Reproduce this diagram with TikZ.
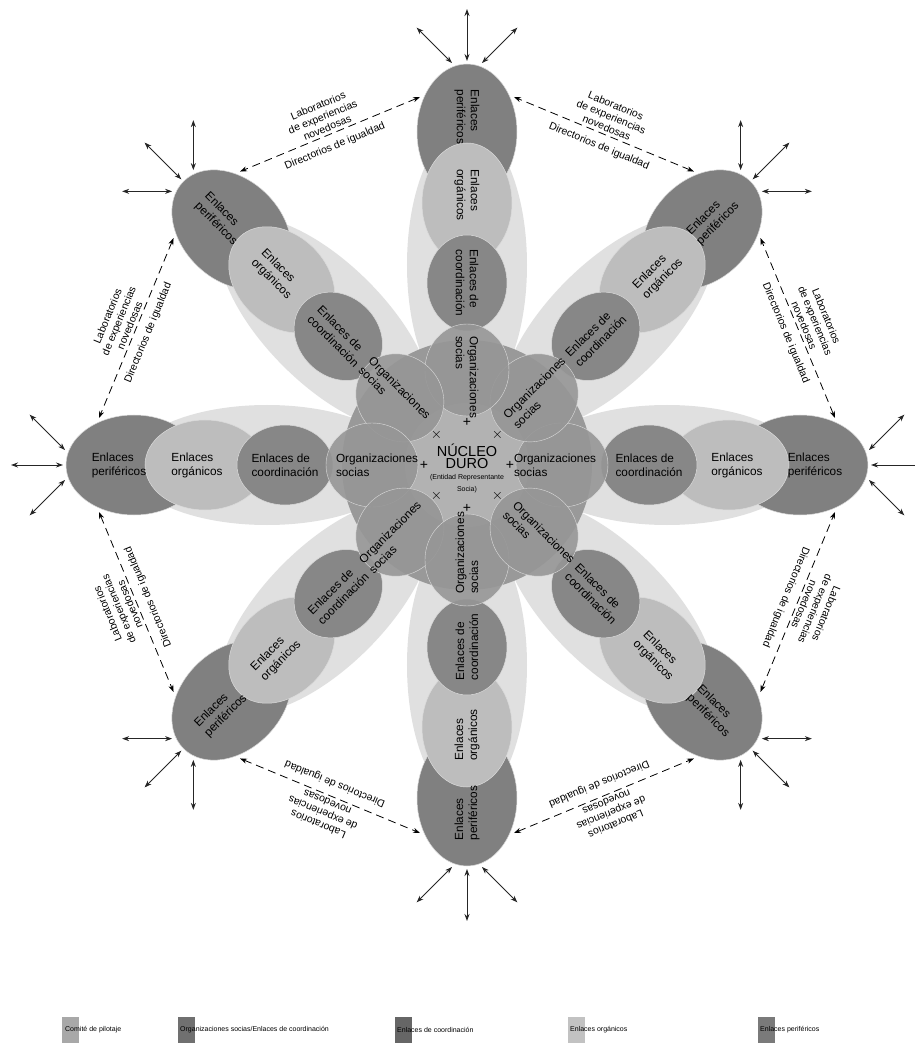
\documentclass[tikz,border=0pt]{standalone}
\usepackage{fontspec}
\setmainfont{Liberation Sans}
\usetikzlibrary{arrows.meta,calc}
\definecolor{perif}{gray}{0.50}
\definecolor{organ}{gray}{0.74}
\definecolor{coord}{gray}{0.53}
\definecolor{socia}{gray}{0.59}
\definecolor{disk}{gray}{0.60}
\definecolor{core}{gray}{0.70}
\definecolor{pale}{gray}{0.80}
\definecolor{edge}{gray}{0.86}
\definecolor{legA}{gray}{0.66}
\definecolor{legB}{gray}{0.44}
\definecolor{legC}{gray}{0.40}
\definecolor{legD}{gray}{0.76}
\definecolor{legE}{gray}{0.48}
\begin{document}
\begin{tikzpicture}[x=1pt,y=1pt,
  ptext/.style={font=\fontsize{11.8}{14}\selectfont, align=left, inner sep=0pt},
  lab/.style={font=\fontsize{10.5}{12}\selectfont, align=center, inner sep=0pt},
  markstyle/.style={font=\fontsize{14}{14}\selectfont, inner sep=0pt},
  dasharrow/.style={line width=0.8pt, dash pattern=on 8pt off 5pt, {Stealth[length=7pt,width=5pt]}-{Stealth[length=7pt,width=5pt]}},
  outarrow/.style={line width=0.9pt, black!85, {Stealth[length=7pt,width=5pt]}-{Stealth[length=7pt,width=5pt]}},
  legtext/.style={font=\fontsize{7}{7}\selectfont, anchor=west, inner sep=0pt},
  legbox/.style={minimum width=17pt, minimum height=26pt, inner sep=0pt, anchor=west}
]
\useasboundingbox (-467,-579) rectangle (448,465);
\fill[white] (-467,-579) rectangle (448,465);

% pale halos
\foreach \t in {0,45,...,315}{
  \fill[pale, opacity=0.6, rotate=\t] (200,0) ellipse [x radius=138, y radius=60];
}
% big disk
\fill[disk] (0,0) circle (125);
% petals
\foreach \t in {0,45,...,315}{
  \filldraw[fill=perif, draw=edge, line width=0.5pt, rotate=\t] (333,0) ellipse [x radius=68, y radius=50];
}
\foreach \t in {0,45,...,315}{
  \filldraw[fill=organ, draw=edge, line width=0.5pt, rotate=\t] (262,0) ellipse [x radius=60, y radius=45];
}
\foreach \t in {0,45,...,315}{
  \filldraw[fill=coord, draw=edge, line width=0.5pt, rotate=\t] (182,0) ellipse [x radius=48, y radius=40];
}
% core
\fill[core] (0,0) circle (62);
\foreach \t in {0,45,...,315}{
  \filldraw[fill=socia, fill opacity=0.9, draw=edge, line width=0.4pt, rotate=\t] (95,0) ellipse [x radius=46, y radius=42];
}

% petal texts
\foreach \t/\r/\s in {0/0/88,45/45/102,90/-90/88,135/-45/102,180/0/90,225/45/102,270/90/88,315/-45/102}{
  \node[ptext, rotate=\r] (perif\t) at (\t:348) {Enlaces\\periféricos};
  \node[ptext, rotate=\r] (organ\t) at (\t:270) {Enlaces\\orgánicos};
  \node[ptext, rotate=\r] (coord\t) at (\t:182) {Enlaces de\\coordinación};
  \node[ptext, rotate=\r] (socia\t) at (\t:\s) {Organizaciones\\socias};
}

% centre
\node[align=center, inner sep=0pt] (nucleo) at (0,-3)
  {\fontsize{14.5}{14}\selectfont NÚCLEO\\\fontsize{14.5}{14}\selectfont DURO\\[-1pt]\fontsize{7}{8}\selectfont (Entidad Representante\\\fontsize{7}{8}\selectfont Socia)};
\foreach \a in {0,90,180,270}{
  \node[markstyle] (plus\a) at (\a:43) {+};
}
\foreach \a in {45,135,225,315}{
  \node[markstyle] (times\a) at (\a:43) {$\times$};
}

% outer solid arrows
\foreach \t in {0,45,...,315}{
  \pgfmathsetmacro\tl{\t-90}
  \pgfmathsetmacro\tr{\t+90}
  \pgfmathsetmacro\dl{\t-45}
  \pgfmathsetmacro\dr{\t+45}
  \coordinate (sm\t) at (\t:404);
  \coordinate (em\t) at (\t:456);
  \coordinate (sl\t) at ($(\t:402)+(\tl:15)$);
  \coordinate (el\t) at ($(sl\t)+(\dl:50)$);
  \coordinate (sr\t) at ($(\t:402)+(\tr:15)$);
  \coordinate (er\t) at ($(sr\t)+(\dr:50)$);
  \draw[outarrow] (sm\t) -- (em\t);
  \draw[outarrow] (sl\t) -- (el\t);
  \draw[outarrow] (sr\t) -- (er\t);
}

% dashed arrows and labels between petals
\foreach \t in {0,45,...,315}{
  \pgfmathsetmacro\tn{\t+45}
  \pgfmathsetmacro\ta{\t+90}
  \pgfmathsetmacro\tb{\t+45-90}
  \pgfmathsetmacro\m{\t+22.5}
  \pgfmathsetmacro\rot{\t+22.5-90}
  \coordinate (da\t) at ($(\t:368)+(\ta:47)$);
  \coordinate (db\t) at ($(\tn:368)+(\tb:47)$);
  \draw[dasharrow] (da\t) -- (db\t);
  \node[lab, anchor=south, rotate=\rot] (labs\t) at (\m:361) {Laboratorios\\de experiencias\\novedosas};
  \node[lab, anchor=north, rotate=\rot] (dirs\t) at (\m:350) {Directorios de igualdad};
}

% legend
\node[legbox, fill=legA] (lbA) at (-405,-565) {};
\node[legtext] (ltA) at (-402,-565) {Comité de pilotaje};
\node[legbox, fill=legB] (lbB) at (-289,-565) {};
\node[legtext] (ltB) at (-287,-565) {Organizaciones socias/Enlaces de coordinación};
\node[legbox, fill=legC] (lbC) at (-72,-565) {};
\node[legtext] (ltC) at (-70,-565) {Enlaces de coordinación};
\node[legbox, fill=legD] (lbD) at (101,-565) {};
\node[legtext] (ltD) at (103,-565) {Enlaces orgánicos};
\node[legbox, fill=legE] (lbE) at (291,-565) {};
\node[legtext] (ltE) at (293,-565) {Enlaces periféricos};
\end{tikzpicture}
\end{document}
